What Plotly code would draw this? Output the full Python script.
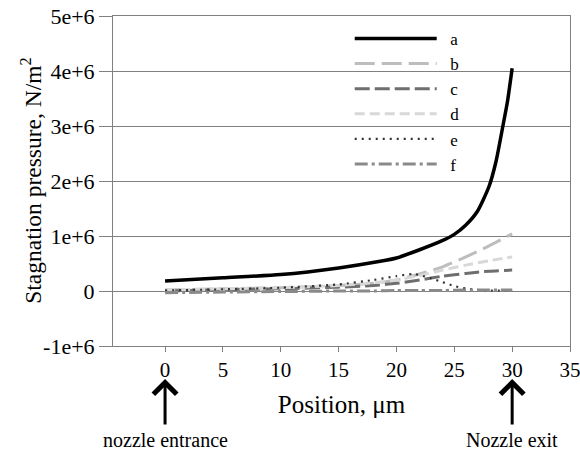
import plotly.graph_objects as go

# ---- data ----
x_a = [0, 5, 10, 15, 18.6, 20, 22, 24, 25, 26, 27, 28, 28.6, 29.2, 29.6, 30]
y_a = [0.18e6, 0.24e6, 0.30e6, 0.42e6, 0.54e6, 0.60e6, 0.75e6, 0.92e6, 1.03e6,
       1.20e6, 1.45e6, 1.90e6, 2.35e6, 3.00e6, 3.45e6, 4.05e6]

x_bcdf = [0, 5, 10, 15, 18, 20, 22, 24, 26, 28, 30]
y_b = [0.02e6, 0.04e6, 0.06e6, 0.10e6, 0.14e6, 0.20e6, 0.31e6, 0.44e6, 0.62e6, 0.82e6, 1.04e6]
y_c = [0.00e6, 0.02e6, 0.04e6, 0.07e6, 0.10e6, 0.14e6, 0.20e6, 0.27e6, 0.32e6, 0.36e6, 0.38e6]
y_d = [0.02e6, 0.04e6, 0.06e6, 0.10e6, 0.15e6, 0.20e6, 0.28e6, 0.38e6, 0.47e6, 0.55e6, 0.62e6]
y_f = [-0.03e6, -0.02e6, -0.01e6, 0.0, 0.0, 0.01e6, 0.01e6, 0.01e6, 0.02e6, 0.02e6, 0.02e6]

x_e = [0, 5, 10, 15, 18, 20, 21.5, 23, 24, 25, 26, 27, 28, 30]
y_e = [0.01e6, 0.03e6, 0.06e6, 0.12e6, 0.20e6, 0.27e6, 0.31e6, 0.23e6, 0.16e6,
       0.09e6, 0.045e6, 0.02e6, 0.01e6, 0.01e6]

x_ticks = [0, 5, 10, 15, 20, 25, 30, 35]
y_ticks = [-1e6, 0, 1e6, 2e6, 3e6, 4e6, 5e6]
y_ticktext = ["-1e+6", "0", "1e+6", "2e+6", "3e+6", "4e+6", "5e+6"]

FONT = "Liberation Serif, Times New Roman, serif"
SP = "\u00a0\u00a0"

series = [
    ("a", x_a, y_a, "#000000", 3.5, "solid"),
    ("b", x_bcdf, y_b, "#bdbdbd", 3, "20px,7px"),
    ("c", x_bcdf, y_c, "#6e6e6e", 3, "15px,5px"),
    ("d", x_bcdf, y_d, "#d8d8d8", 3, "10px,5px"),
    ("e", x_e, y_e, "#333333", 2.2, "2px,5px"),
    ("f", x_bcdf, y_f, "#8a8a8a", 3, "13px,4px,3px,4px"),
]

fig = go.Figure()
for name, xs, ys, col, w, dash in series:
    fig.add_trace(go.Scatter(
        x=xs, y=ys, name=SP + name, mode="lines",
        line=dict(color=col, width=w, dash=dash, shape="spline", smoothing=0.6),
    ))

fig.update_layout(
    width=580, height=452,
    margin=dict(l=113, r=10, t=16, b=106),
    paper_bgcolor="white", plot_bgcolor="white",
    font=dict(family=FONT, size=19, color="black"),
    showlegend=True,
    legend=dict(
        x=0.518, y=0.985, xanchor="left", yanchor="top",
        bgcolor="rgba(0,0,0,0)", itemwidth=82,
        font=dict(family=FONT, size=17),
        tracegroupgap=0,
    ),
    xaxis=dict(
        range=[-4.5, 35], tickvals=x_ticks, showgrid=False, zeroline=False,
        showline=True, linecolor="#808080", linewidth=1, mirror=True,
        ticks="outside", ticklen=5, tickcolor="#808080", automargin=False,
        ticklabeloverflow="allow",
        tickfont=dict(family=FONT, size=21),
        title=dict(text="Position, μm", font=dict(family=FONT, size=25), standoff=14),
    ),
    yaxis=dict(
        range=[-1e6, 5e6], tickvals=y_ticks, ticktext=y_ticktext,
        showgrid=True, gridcolor="#808080", gridwidth=1, zeroline=False,
        showline=True, linecolor="#808080", linewidth=1, mirror=True,
        ticks="outside", ticklen=13, tickcolor="#808080", automargin=False,
        tickfont=dict(family=FONT, size=22),
    ),
)

# y-axis title (placed as rotated text, as in the reference)
fig.add_annotation(
    x=-0.18, y=0.5, xref="paper", yref="paper", textangle=-90,
    text="Stagnation pressure, N/m<sup>2</sup>", showarrow=False,
    font=dict(family=FONT, size=23.5), xanchor="center", yanchor="middle",
)

# arrows and labels for nozzle entrance / exit
for xv, label in [(0, "nozzle entrance"), (30, "Nozzle exit")]:
    fig.add_annotation(
        x=xv, y=-0.1, xref="x", yref="paper", text="", showarrow=True,
        ax=0, ay=47, arrowhead=4, arrowsize=1.5, arrowwidth=3, arrowcolor="black",
    )
    fig.add_annotation(
        x=xv, y=-0.285, xref="x", yref="paper", text=label, showarrow=False,
        font=dict(family=FONT, size=20), xanchor="center", yanchor="middle",
    )

fig.write_html("out.html", post_script="document.body.style.margin='0';",
               config={"displayModeBar": False})
